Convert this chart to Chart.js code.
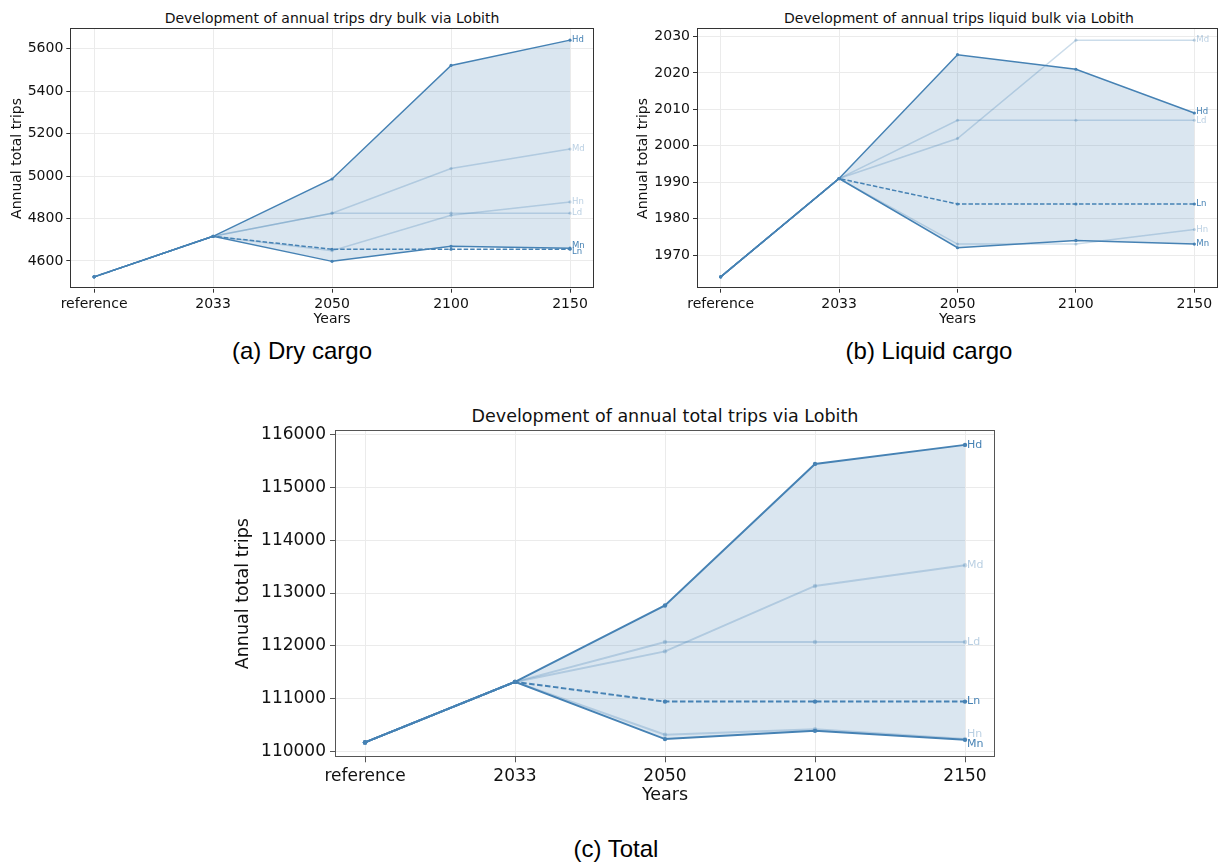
<!DOCTYPE html>
<html>
<head>
<meta charset="utf-8">
<script src="https://cdn.jsdelivr.net/npm/chart.js@4.4.1/dist/chart.umd.min.js"></script>
<style>
  body { margin:0; background:#fff; width:1222px; height:863px; position:relative; overflow:hidden; }
  canvas { position:absolute; }
  .ttl { position:absolute; font-family:"DejaVu Sans"; color:#111; white-space:nowrap; transform:translate(-50%,-50%); }
  .cap { position:absolute; font-family:"Liberation Sans", Arial, sans-serif; color:#000; white-space:nowrap; transform:translate(-50%,-50%); font-size:24px; }
</style>
</head>
<body>
<div class="ttl" style="left:332px;top:17.5px;font-size:14px">Development of annual trips dry bulk via Lobith</div>
<div class="ttl" style="left:959px;top:17.5px;font-size:14px">Development of annual trips liquid bulk via Lobith</div>
<div class="ttl" style="left:665px;top:415.5px;font-size:17.5px">Development of annual total trips via Lobith</div>
<div class="cap" style="left:302px;top:351px">(a) Dry cargo</div>
<div class="cap" style="left:929px;top:351px">(b) Liquid cargo</div>
<div class="cap" style="left:616px;top:849px">(c) Total</div>

<canvas id="cA" width="612" height="340" style="left:0;top:0"></canvas>
<canvas id="cB" width="607" height="340" style="left:615px;top:0"></canvas>
<canvas id="cC" width="800" height="420" style="left:220px;top:400px"></canvas>

<script>
// ---------- data ----------
const categories = ['reference', '2033', '2050', '2100', '2150'];

// Dry bulk
const dryHd = [4525, 4716, 4986, 5521, 5640];
const dryMd = [4525, 4716, 4825, 5035, 5127];
const dryLd = [4525, 4716, 4825, 4825, 4825];
const dryHn = [4525, 4716, 4648, 4815, 4878];
const dryMn = [4525, 4716, 4598, 4669, 4660];
const dryLn = [4525, 4716, 4655, 4655, 4655];
const dryTicks = [4600, 4800, 5000, 5200, 5400, 5600];

// Liquid bulk
const liqHd = [1964, 1991, 2025, 2021, 2009];
const liqMd = [1964, 1991, 2002, 2029, 2029];
const liqLd = [1964, 1991, 2007, 2007, 2007];
const liqHn = [1964, 1991, 1973, 1973, 1977];
const liqMn = [1964, 1991, 1972, 1974, 1973];
const liqLn = [1964, 1991, 1984, 1984, 1984];
const liqTicks = [1970, 1980, 1990, 2000, 2010, 2020, 2030];

// Total
const totHd = [110176, 111320, 112764, 115440, 115800];
const totMd = [110176, 111320, 111897, 113134, 113524];
const totLd = [110176, 111320, 112073, 112073, 112073];
const totHn = [110176, 111320, 110320, 110427, 110240];
const totMn = [110176, 111320, 110239, 110395, 110225];
const totLn = [110176, 111320, 110948, 110948, 110948];
const totTicks = [110000, 111000, 112000, 113000, 114000, 115000, 116000];

// ---------- styling ----------
const DARK = '#4682b4';
const LIGHT = 'rgba(70,130,180,0.28)';
const LIGHT_TXT = 'rgba(70,130,180,0.38)';
const FILL = 'rgba(70,130,180,0.2)';
const GRID = '#ebebeb';

const framePlugin = {
  id: 'frame',
  afterDatasetsDraw(chart, args, opts) {
    const a = chart.chartArea, ctx = chart.ctx;
    ctx.save();
    ctx.strokeStyle = opts.color || '#333';
    ctx.lineWidth = 1;
    ctx.strokeRect(Math.round(a.left) + 0.5, Math.round(a.top) + 0.5,
                   Math.round(a.right - a.left) - 1, Math.round(a.bottom - a.top) - 1);
    ctx.restore();
  }
};

const endLabelPlugin = {
  id: 'endLabels',
  afterDraw(chart, args, opts) {
    const ctx = chart.ctx;
    const items = [];
    chart.data.datasets.forEach((ds, i) => {
      if (!ds.endLabel) return;
      const meta = chart.getDatasetMeta(i);
      const p = meta.data[meta.data.length - 1];
      items.push({ text: ds.endLabel, x: p.x, y: p.y, color: ds.labelColor });
    });
    items.sort((a, b) => a.y - b.y);
    // cluster separation
    let groups = items.map(it => ({ members: [it] }));
    const place = g => {
      const mean = g.members.reduce((s, m) => s + m.y, 0) / g.members.length;
      const start = mean - (g.members.length - 1) * opts.gap / 2;
      g.members.forEach((m, k) => { m.ly = start + k * opts.gap; });
    };
    groups.forEach(place);
    let changed = true;
    while (changed) {
      changed = false;
      for (let i = 0; i < groups.length - 1; i++) {
        const a = groups[i], b = groups[i + 1];
        const lastA = a.members[a.members.length - 1].ly;
        const firstB = b.members[0].ly;
        if (firstB - lastA < opts.gap - 0.01) {
          a.members = a.members.concat(b.members);
          groups.splice(i + 1, 1);
          place(a);
          changed = true;
          break;
        }
      }
    }
    ctx.save();
    ctx.font = opts.size + 'px "DejaVu Sans"';
    ctx.textBaseline = 'middle';
    ctx.textAlign = 'left';
    items.forEach(it => {
      ctx.fillStyle = it.color;
      ctx.fillText(it.text, it.x + opts.dx, it.ly);
    });
    ctx.restore();
  }
};

function buildChart(id, s, tickVals, o) {
  const pts = arr => arr.map((v, i) => ({ x: i, y: v }));
  const all = [].concat(s.Hd, s.Md, s.Ld, s.Hn, s.Mn, s.Ln);
  const lo = Math.min(...all), hi = Math.max(...all), m = (hi - lo) * 0.05;
  const mk = (key, dark, dashed) => ({
    data: pts(s[key]),
    endLabel: key,
    labelColor: dark ? DARK : LIGHT_TXT,
    borderColor: dark ? DARK : LIGHT,
    backgroundColor: dark ? DARK : LIGHT,
    pointBackgroundColor: dark ? DARK : LIGHT,
    pointBorderWidth: 0,
    pointRadius: o.pr,
    borderWidth: o.lw,
    borderDash: dashed ? o.dash : [],
    fill: false,
    tension: 0
  });
  const datasets = [
    mk('Hd', true, false),
    mk('Mn', true, false),
    mk('Ln', true, true),
    mk('Md', false, false),
    mk('Ld', false, false),
    mk('Hn', false, false)
  ];
  datasets[0].fill = { target: 1, above: FILL, below: FILL };

  const tickFont = { family: 'DejaVu Sans', size: o.tick };
  const titleFont = { family: 'DejaVu Sans', size: o.axt };
  return new Chart(document.getElementById(id), {
    type: 'line',
    data: { datasets },
    plugins: [framePlugin, endLabelPlugin],
    options: {
      responsive: false,
      animation: false,
      events: [],
      layout: { padding: o.pad },
      plugins: {
        legend: { display: false },
        tooltip: { enabled: false },
        title: { display: false },
        filler: { drawTime: 'beforeDatasetsDraw' },
        frame: { color: o.frame },
        endLabels: { size: o.lab, gap: o.gap, dx: o.dx }
      },
      scales: {
        x: {
          type: 'linear', min: -0.2, max: 4.2,
          afterBuildTicks: sc => { sc.ticks = categories.map((c, i) => ({ value: i })); },
          afterFit: sc => { sc.height = o.xh; },
          ticks: { font: tickFont, color: '#111', padding: o.tp, maxRotation: 0, autoSkip: false,
                   callback: v => categories[v] },
          grid: { color: GRID, tickColor: o.frame, tickLength: o.tl, lineWidth: 1 },
          border: { display: false },
          title: { display: true, text: 'Years', font: titleFont, color: '#111', padding: { top: 0, bottom: o.xtp } }
        },
        y: {
          type: 'linear', min: lo - m, max: hi + m,
          afterBuildTicks: sc => { sc.ticks = tickVals.map(v => ({ value: v })); },
          afterFit: sc => { sc.width = o.yw; },
          ticks: { font: tickFont, color: '#111', padding: o.tp, callback: v => String(v) },
          grid: { color: GRID, tickColor: o.frame, tickLength: o.tl, lineWidth: 1 },
          border: { display: false },
          title: { display: true, text: 'Annual total trips', font: titleFont, color: '#111', padding: { top: o.ytp, bottom: 0 } }
        }
      }
    }
  });
}

buildChart('cA', { Hd: dryHd, Md: dryMd, Ld: dryLd, Hn: dryHn, Mn: dryMn, Ln: dryLn }, dryTicks, {
  pad: { left: 0, top: 28.3, right: 18.2, bottom: 0 }, yw: 70.3, xh: 51.3,
  tick: 14, axt: 14, tl: 4, tp: 3, xtp: 12.6, ytp: 8.5,
  lw: 1.5, pr: 1.6, dash: [4.5, 2], lab: 8.5, gap: 6.5, dx: 2, frame: '#333'
});
buildChart('cB', { Hd: liqHd, Md: liqMd, Ld: liqLd, Hn: liqHn, Mn: liqMn, Ln: liqLn }, liqTicks, {
  pad: { left: 0, top: 28.3, right: 1, bottom: 0 }, yw: 82, xh: 51.3,
  tick: 14, axt: 14, tl: 4, tp: 3, xtp: 12.6, ytp: 19.6,
  lw: 1.5, pr: 1.6, dash: [4.5, 2], lab: 8.5, gap: 9, dx: 2, frame: '#333'
});
buildChart('cC', { Hd: totHd, Md: totMd, Ld: totLd, Hn: totHn, Mn: totMn, Ln: totLn }, totTicks, {
  pad: { left: 0, top: 30, right: 25, bottom: 0 }, yw: 115, xh: 62.7,
  tick: 17, axt: 17.5, tl: 5, tp: 4, xtp: 14.5, ytp: 12.5,
  lw: 2, pr: 2.2, dash: [5.5, 2.5], lab: 11, gap: 10, dx: 2, frame: '#555'
});
</script>
</body>
</html>
